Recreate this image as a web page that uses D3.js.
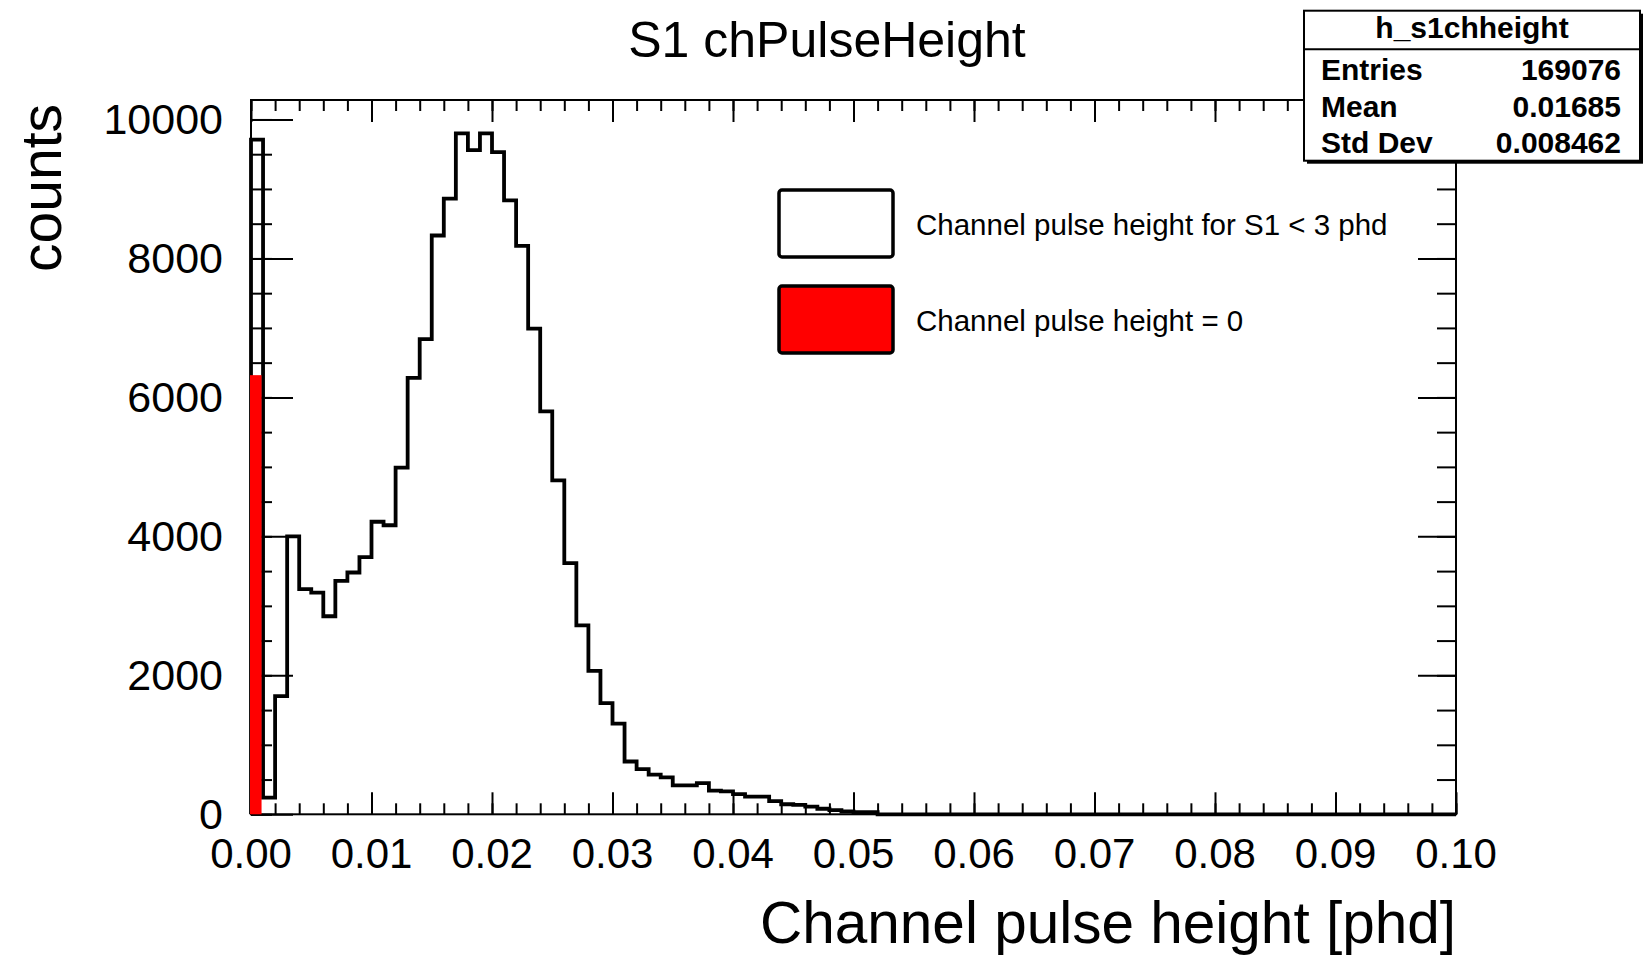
<!DOCTYPE html>
<html><head><meta charset="utf-8">
<script src="https://cdn.jsdelivr.net/npm/d3@7"></script>
<style>
body{margin:0;background:#fff}
svg{display:block}
text{font-family:"Liberation Sans",Arial,Helvetica,sans-serif;fill:#000}
</style>
</head><body>
<svg id="c" width="1646" height="956"></svg>
<script>
// ---------- data ----------
const histTitle = "S1 chPulseHeight";
const xTitle = "Channel pulse height [phd]";
const yTitle = "counts";
const nBins = 100;
const xMin = 0, xMax = 0.1;
const yMax = 10280;
// counts per bin (bin width 0.001), histogram "Channel pulse height for S1 < 3 phd"
const allCounts = [
  9710, 240, 1700, 4000, 3240, 3190, 2850, 3360, 3480, 3700,
  4210, 4160, 4990, 6280, 6840, 8330, 8860, 9800, 9560, 9800,
  9530, 8835, 8180, 6990, 5800, 4805, 3615, 2720, 2065, 1600,
  1305, 760, 650, 570, 530, 415, 415, 450, 340, 330,
  290, 255, 255, 190, 145, 135, 110, 80, 60, 40,
  30, 30, 0, 0, 0, 0, 0, 0, 0, 0,
  0, 0, 0, 0, 0, 0, 0, 0, 0, 0,
  0, 0, 0, 0, 0, 0, 0, 0, 0, 0,
  0, 0, 0, 0, 0, 0, 0, 0, 0, 0,
  0, 0, 0, 0, 0, 0, 0, 0, 0, 0
];
// histogram "Channel pulse height = 0" (only first bin filled)
const zeroCounts = [6320];
const xTickValues = [0, 0.01, 0.02, 0.03, 0.04, 0.05, 0.06, 0.07, 0.08, 0.09, 0.1];
const xTickLabels = ["0.00","0.01","0.02","0.03","0.04","0.05","0.06","0.07","0.08","0.09","0.10"];
const xMinorStep = 0.002;
const yTickValues = [0, 2000, 4000, 6000, 8000, 10000];
const yTickLabels = ["0","2000","4000","6000","8000","10000"];
const yMinorStep = 500;
const statsName = "h_s1chheight";
const statsLabels = ["Entries", "Mean", "Std Dev"];
const statsValues = ["169076", "0.01685", "0.008462"];
const legendLabels = ["Channel pulse height for S1 < 3 phd", "Channel pulse height = 0"];
const legendFills = ["#ffffff", "#ff0000"];

// ---------- layout ----------
const svg = d3.select("#c");
const frame = {left: 251, right: 1456, top: 100, bottom: 814.3};
const x = d3.scaleLinear().domain([xMin, xMax]).range([frame.left, frame.right]);
const y = d3.scaleLinear().domain([0, yMax]).range([frame.bottom, frame.top]);
const binW = (xMax - xMin) / nBins;

// frame background
svg.append("rect")
  .attr("x", x(xMin)).attr("y", y(yMax))
  .attr("width", x(xMax) - x(xMin)).attr("height", y(0) - y(yMax))
  .attr("fill", "#fff");

// ---------- ticks ----------
const xMinor = d3.range(xMin, xMax + 1e-9, xMinorStep);
const yMinor = d3.range(0, yMax, yMinorStep);
function styleAxis(g){
  g.select(".domain").remove();
  g.selectAll("line").attr("stroke", "#000").attr("stroke-width", 2);
}
// bottom
svg.append("g").attr("transform", `translate(0,${y(0)})`)
  .call(d3.axisBottom(x).tickValues(xMinor).tickSize(-11).tickFormat("")).call(styleAxis);
svg.append("g").attr("transform", `translate(0,${y(0)})`)
  .call(d3.axisBottom(x).tickValues(xTickValues).tickSize(-22).tickFormat("")).call(styleAxis);
// top
svg.append("g").attr("transform", `translate(0,${y(yMax)})`)
  .call(d3.axisTop(x).tickValues(xMinor).tickSize(-11).tickFormat("")).call(styleAxis);
svg.append("g").attr("transform", `translate(0,${y(yMax)})`)
  .call(d3.axisTop(x).tickValues(xTickValues).tickSize(-22).tickFormat("")).call(styleAxis);
// left
svg.append("g").attr("transform", `translate(${x(xMin)},0)`)
  .call(d3.axisLeft(y).tickValues(yMinor).tickSize(-21).tickFormat("")).call(styleAxis);
svg.append("g").attr("transform", `translate(${x(xMin)},0)`)
  .call(d3.axisLeft(y).tickValues(yTickValues).tickSize(-42).tickFormat("")).call(styleAxis);
// right
svg.append("g").attr("transform", `translate(${x(xMax)},0)`)
  .call(d3.axisRight(y).tickValues(yMinor).tickSize(-19).tickFormat("")).call(styleAxis);
svg.append("g").attr("transform", `translate(${x(xMax)},0)`)
  .call(d3.axisRight(y).tickValues(yTickValues).tickSize(-38).tickFormat("")).call(styleAxis);

// frame border
svg.append("rect")
  .attr("x", x(xMin)).attr("y", y(yMax))
  .attr("width", x(xMax) - x(xMin)).attr("height", y(0) - y(yMax))
  .attr("fill", "none").attr("stroke", "#000").attr("stroke-width", 2);

// tick labels
svg.append("g").selectAll("text").data(xTickValues).join("text")
  .attr("x", d => x(d)).attr("y", y(0) + 54)
  .attr("text-anchor", "middle").attr("font-size", 42)
  .text((d, i) => xTickLabels[i]);
svg.append("g").selectAll("text").data(yTickValues).join("text")
  .attr("x", x(xMin) - 28).attr("y", d => y(d) + 15)
  .attr("text-anchor", "end").attr("font-size", 43)
  .text((d, i) => yTickLabels[i]);

// ---------- histogram (black outline) ----------
const pts = [[xMin, 0]];
allCounts.forEach((c, i) => {
  pts.push([xMin + i * binW, c]);
  pts.push([xMin + (i + 1) * binW, c]);
});
pts.push([xMax, 0]);
const line = d3.line().x(d => x(d[0])).y(d => y(d[1]));
svg.append("path").attr("d", line(pts))
  .attr("fill", "none").attr("stroke", "#000")
  .attr("stroke-width", 3.8).attr("stroke-linejoin", "miter");

// ---------- red histogram (pulse height = 0) ----------
svg.append("g").selectAll("rect").data(zeroCounts).join("rect")
  .attr("x", (d, i) => x(xMin + i * binW) - 1)
  .attr("y", d => y(d))
  .attr("width", (d, i) => x(xMin + (i + 1) * binW) - x(xMin + i * binW) - 0.5)
  .attr("height", d => y(0) - y(d))
  .attr("fill", "#ff0000");

// ---------- legend ----------
const legBox = {x: 779, w: 114, h: 67};
const legTop = [190, 286];
const leg = svg.append("g");
legendLabels.forEach((lab, i) => {
  leg.append("rect")
    .attr("x", legBox.x).attr("y", legTop[i])
    .attr("width", legBox.w).attr("height", legBox.h)
    .attr("rx", 3).attr("fill", legendFills[i])
    .attr("stroke", "#000").attr("stroke-width", 3.5);
  leg.append("text")
    .attr("x", 916).attr("y", legTop[i] + legBox.h / 2 + 11)
    .attr("font-size", 29.5).text(lab);
});

// ---------- stats box ----------
const sb = {x: 1304, y: 10.7, w: 336, h: 150};
svg.append("rect").attr("x", sb.x + 3).attr("y", sb.y + 3)
  .attr("width", sb.w).attr("height", sb.h).attr("fill", "#000");
svg.append("rect").attr("x", sb.x).attr("y", sb.y)
  .attr("width", sb.w).attr("height", sb.h)
  .attr("fill", "#fff").attr("stroke", "#000").attr("stroke-width", 2);
svg.append("line").attr("x1", sb.x).attr("x2", sb.x + sb.w)
  .attr("y1", 49.3).attr("y2", 49.3).attr("stroke", "#000").attr("stroke-width", 2);
svg.append("text").attr("x", sb.x + sb.w / 2).attr("y", 38)
  .attr("text-anchor", "middle").attr("font-size", 30).attr("font-weight", "bold")
  .text(statsName);
const rowBase = [80, 116.5, 153];
statsLabels.forEach((lab, i) => {
  svg.append("text").attr("x", 1321).attr("y", rowBase[i])
    .attr("font-size", 30).attr("font-weight", "bold").text(lab);
  svg.append("text").attr("x", 1621).attr("y", rowBase[i])
    .attr("text-anchor", "end").attr("font-size", 30).attr("font-weight", "bold")
    .text(statsValues[i]);
});

// ---------- titles ----------
svg.append("text").attr("x", 827).attr("y", 57)
  .attr("text-anchor", "middle").attr("font-size", 50).text(histTitle);
svg.append("text").attr("x", x(xMax)).attr("y", 943)
  .attr("text-anchor", "end").attr("font-size", 58.5).text(xTitle);
svg.append("text")
  .attr("transform", `translate(61,${y(yMax) + 4}) rotate(-90)`)
  .attr("text-anchor", "end").attr("font-size", 57).text(yTitle);
</script>
</body></html>
